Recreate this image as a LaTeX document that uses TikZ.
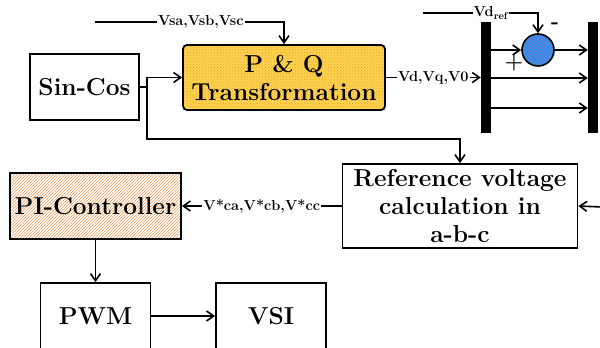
\documentclass[tikz,border=0pt]{standalone}
\usepackage{tikz}
\usetikzlibrary{arrows.meta,positioning,patterns}
\definecolor{PQYellow}{RGB}{255,210,80}
\definecolor{PQDot}{RGB}{230,165,40}
\definecolor{SumBlue}{RGB}{25,165,240}
\definecolor{SumHatch}{RGB}{110,110,215}
\definecolor{PIOrange}{RGB}{248,160,95}
\begin{document}
\begin{tikzpicture}[x=1pt,y=-1pt,
  box/.style={draw,line width=1.8pt,align=center,font=\fontsize{24.5}{28}\selectfont\bfseries,inner sep=0pt},
  arrow/.style={-{Straight Barb[length=2.5mm,width=3.5mm]},line width=1.6pt},
  line/.style={line width=1.6pt},
  lbl/.style={fill=white,inner sep=1pt,font=\fontsize{14.5}{16}\selectfont\bfseries},
  bar/.style={fill=black,minimum width=10pt,minimum height=111pt,inner sep=0pt},
  sign/.style={inner sep=0pt,font=\fontsize{21}{21}\selectfont\bfseries}
]
\useasboundingbox (0,0) rectangle (600,348);
\clip (0,0) rectangle (600,348);
\node[box,minimum width=109pt,minimum height=66pt] (sc) at (84.5,87) {Sin-Cos};
\node[box,rounded corners=4pt,minimum width=202pt,minimum height=65pt,
      preaction={fill=PQYellow},pattern=crosshatch dots,pattern color=PQDot] (pq) at (284,77.5) {P \& Q\\Transformation};
\node[bar] (b1) at (486,77.5) {};
\node[bar] (b2) at (593,77.5) {};
\node[circle,draw,line width=1.6pt,minimum size=32pt,inner sep=0pt,
      preaction={fill=SumBlue},pattern=crosshatch,pattern color=SumHatch] (sum) at (538,50) {};
\node[sign] (minus) at (555,26) {-};
\node[sign] (plus) at (514,63) {+};
\node[box,minimum width=235pt,minimum height=84pt] (ref) at (460,206) {Reference voltage\\calculation in\\a-b-c};
\node[box,minimum width=171pt,minimum height=66pt,pattern=north east lines,pattern color=PIOrange] (pi) at (95.5,206) {PI-Controller};
\node[box,minimum width=110pt,minimum height=66pt] (pwm) at (95.5,316) {PWM};
\node[box,minimum width=110pt,minimum height=66pt] (vsi) at (271,316) {VSI};

\coordinate (vin) at (95,22);
\coordinate (vref) at (423,13);
\coordinate (jn) at (147,87);
\coordinate (bend) at (460,139);
\coordinate (rin) at (602,207);
\coordinate (r2) at (0,78);
\coordinate (r3) at (0,108);

\draw[arrow] (vin) -- node[lbl,pos=0.56] {Vsa,Vsb,Vsc} (vin -| pq) -- (pq);
\draw[line] (sc.east) -- (jn); \draw[arrow] (jn) |- (pq.west); \draw[arrow] (jn) |- (bend) -- (ref);
\draw[arrow] (pq.east) -- node[lbl] {Vd,Vq,V0} (b1.west |- pq.east);
\draw[arrow] (vref) -- node[lbl,pos=0.59] {Vd\textsubscript{ref}} (vref -| sum) -- (sum);
\draw[arrow] (b1.east |- sum) -- (sum); \draw[arrow] (sum) -- (b2.west |- sum);
\draw[arrow] (b1.east |- r2) -- (b2.west |- r2); \draw[arrow] (b1.east |- r3) -- (b2.west |- r3);
\draw[arrow] (rin) -- (ref.east);
\draw[arrow] (ref.west) -- node[lbl] {V*ca,V*cb,V*cc} (pi.east);
\draw[arrow] (pi) -- (pwm); \draw[arrow] (pwm) -- (vsi);
\end{tikzpicture}
\end{document}
